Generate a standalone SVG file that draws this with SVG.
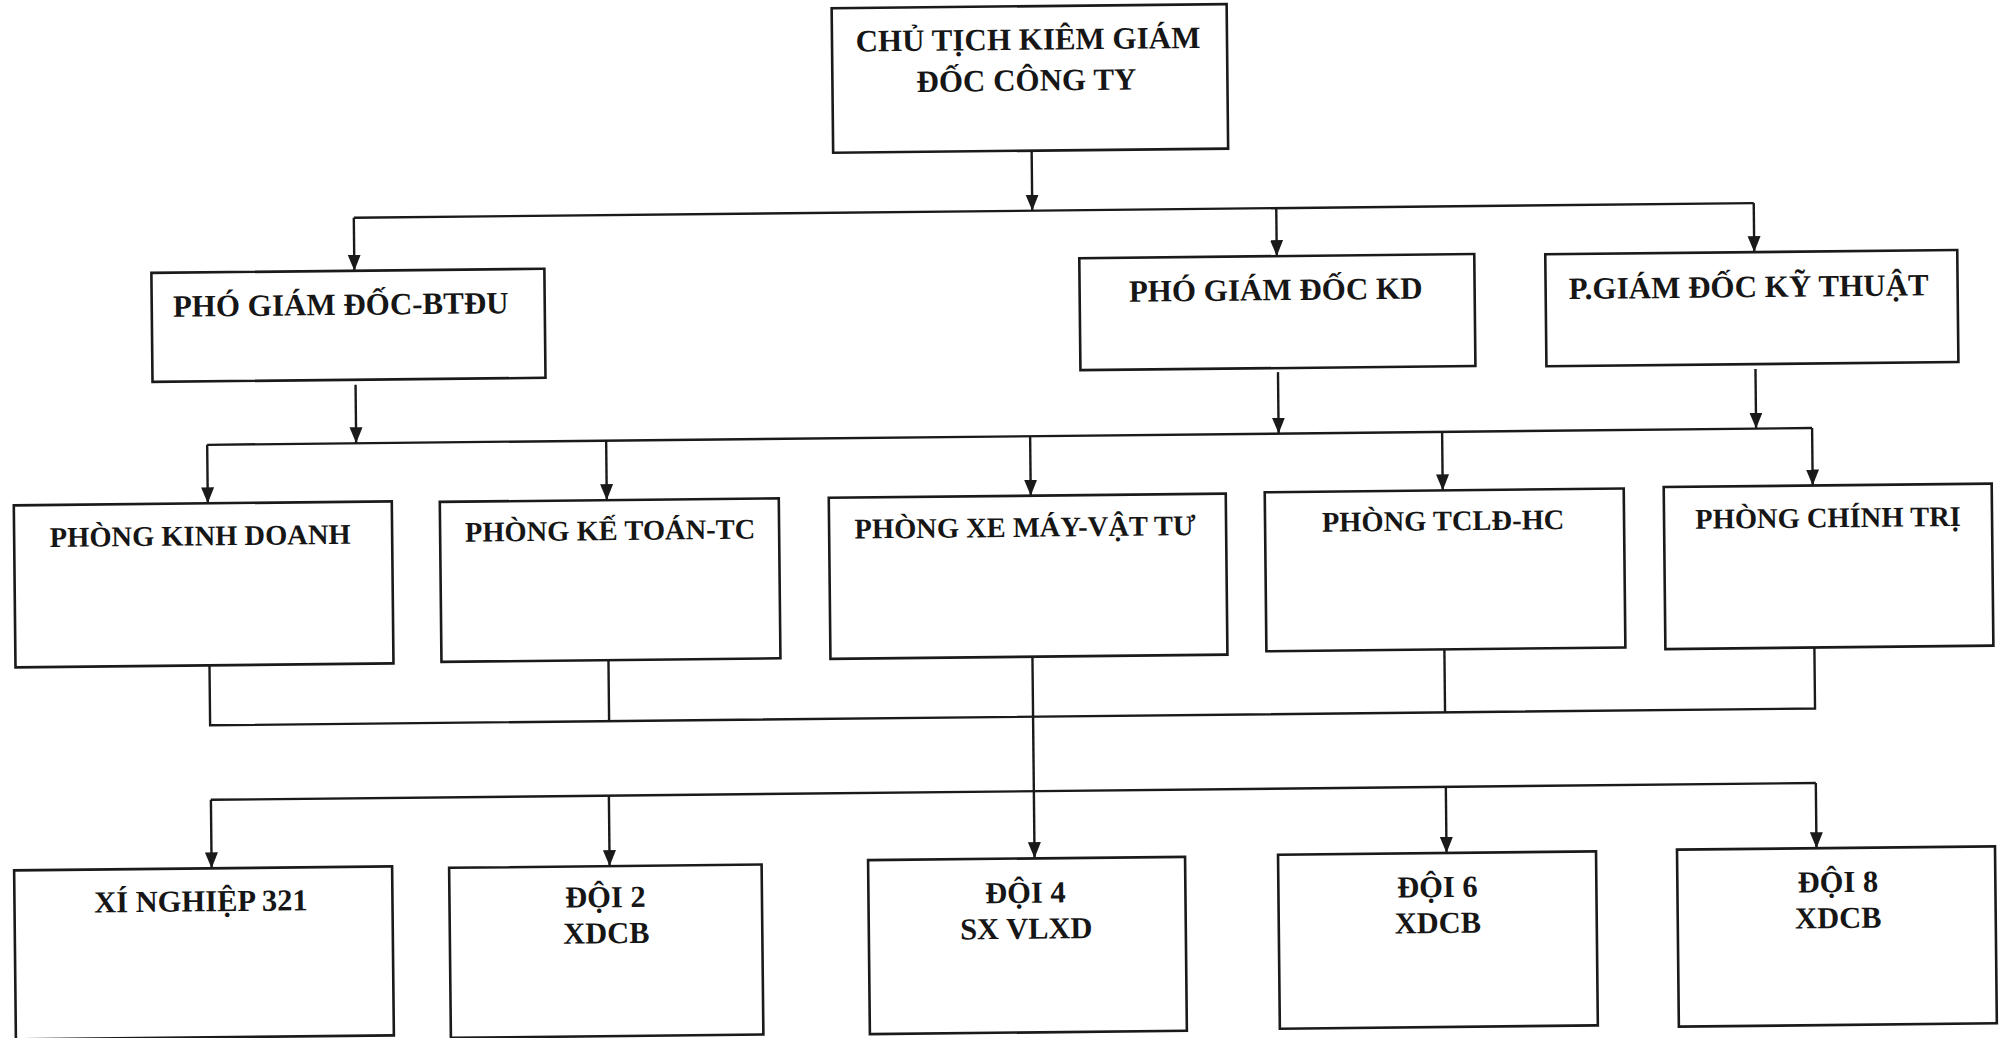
<svg xmlns="http://www.w3.org/2000/svg" width="2006" height="1038" viewBox="0 0 2006 1038">
<style>
.box{fill:#ffffff;stroke:#1a1a1a;stroke-width:2.6}
.ln{fill:none;stroke:#1a1a1a;stroke-width:2.4}
.arr{fill:none;stroke:#1a1a1a;stroke-width:2.4;marker-end:url(#ah)}
text{font-family:"Liberation Serif","Times New Roman",serif;font-weight:bold;fill:#161616;text-anchor:middle}
.t1{font-size:31px}
.t2{font-size:31px}
.t3{font-size:28.5px}
.t4{font-size:30.5px}
</style>
<defs>
<marker id="ah" markerUnits="userSpaceOnUse" markerWidth="16" markerHeight="14" viewBox="0 -7 16 14" refX="16" refY="0" orient="auto">
<path d="M0,-6.5 L16,0 L0,6.5 z" fill="#1a1a1a"/>
</marker>
</defs>
<rect x="0" y="0" width="2006" height="1038" fill="#ffffff"/>
<g transform="rotate(-0.6 1003 519)">
<g id="connectors">
<path class="arr" d="M1035.5,151 V211"/>
<path class="ln" d="M357,211 H1757"/>
<path class="arr" d="M357,211 V264"/>
<path class="arr" d="M1279.5,211 V259"/>
<path class="arr" d="M1757,211 V260"/>
<path class="arr" d="M357,378 V436.5"/>
<path class="arr" d="M1279.5,375 V436.5"/>
<path class="arr" d="M1757,377 V436.5"/>
<path class="ln" d="M208,436.5 H1813"/>
<path class="arr" d="M208,436.5 V495"/>
<path class="arr" d="M607,436.5 V496"/>
<path class="arr" d="M1031,436.5 V496"/>
<path class="arr" d="M1443,436.5 V495"/>
<path class="arr" d="M1813,436.5 V494"/>
<path class="ln" d="M208,657 V717 H1813 V656"/>
<path class="ln" d="M607,656 V717"/>
<path class="ln" d="M1443,654 V717"/>
<path class="arr" d="M1031,657 V858.5"/>
<path class="ln" d="M208,791.5 H1813"/>
<path class="arr" d="M208,791.5 V860"/>
<path class="arr" d="M606,791.5 V862"/>
<path class="arr" d="M1443,791.5 V857.6"/>
<path class="arr" d="M1813,791.5 V856.7"/>
</g>
<g id="n-chutich">
<rect class="box" x="837" y="6.5" width="395" height="144.5"/>
<text class="t1" x="1033" y="50">CHỦ TỊCH KIÊM GIÁM</text>
<text class="t1" x="1031" y="91">ĐỐC CÔNG TY</text>
</g>
<g id="n-pgd-btdu">
<rect class="box" x="154" y="264" width="393" height="109"/>
<text class="t2" x="343" y="308">PHÓ GIÁM ĐỐC-BTĐU</text>
</g>
<g id="n-pgd-kd">
<rect class="box" x="1082" y="259" width="395" height="112"/>
<text class="t2" x="1278" y="303">PHÓ GIÁM ĐỐC KD</text>
</g>
<g id="n-pgd-kt">
<rect class="box" x="1548" y="260" width="412" height="112"/>
<text class="t2" x="1751" y="305">P.GIÁM ĐỐC KỸ THUẬT</text>
</g>
<g id="n-kinhdoanh">
<rect class="box" x="14" y="495" width="378" height="162"/>
<text class="t3" x="200" y="537">PHÒNG KINH DOANH</text>
</g>
<g id="n-ketoan">
<rect class="box" x="440" y="496" width="339" height="160"/>
<text class="t3" x="610" y="536">PHÒNG KẾ TOÁN-TC</text>
</g>
<g id="n-xemay">
<rect class="box" x="829" y="496" width="397" height="161"/>
<text class="t3" x="1025" y="537">PHÒNG XE MÁY-VẬT TƯ</text>
</g>
<g id="n-tcld">
<rect class="box" x="1265" y="495" width="359" height="159"/>
<text class="t3" x="1443" y="535">PHÒNG TCLĐ-HC</text>
</g>
<g id="n-chinhtri">
<rect class="box" x="1664" y="494" width="328" height="162"/>
<text class="t3" x="1828" y="536">PHÒNG CHÍNH TRỊ</text>
</g>
<g id="n-xn321">
<rect class="box" x="10.5" y="860" width="378" height="169"/>
<text class="t4" x="197" y="903">XÍ NGHIỆP 321</text>
</g>
<g id="n-doi2">
<rect class="box" x="445.5" y="862" width="312.5" height="170"/>
<text class="t4" x="601.5" y="903">ĐỘI 2</text>
<text class="t4" x="602" y="939">XDCB</text>
</g>
<g id="n-doi4">
<rect class="box" x="864.5" y="858.7" width="317" height="174"/>
<text class="t4" x="1021.5" y="903">ĐỘI 4</text>
<text class="t4" x="1022" y="939">SX VLXD</text>
</g>
<g id="n-doi6">
<rect class="box" x="1274.5" y="857.6" width="318" height="174"/>
<text class="t4" x="1433.5" y="901.5">ĐỘI 6</text>
<text class="t4" x="1433.5" y="937.5">XDCB</text>
</g>
<g id="n-doi8">
<rect class="box" x="1673.5" y="856.7" width="318" height="177"/>
<text class="t4" x="1834" y="900.7">ĐỘI 8</text>
<text class="t4" x="1834" y="936.7">XDCB</text>
</g>
</g>
</svg>
